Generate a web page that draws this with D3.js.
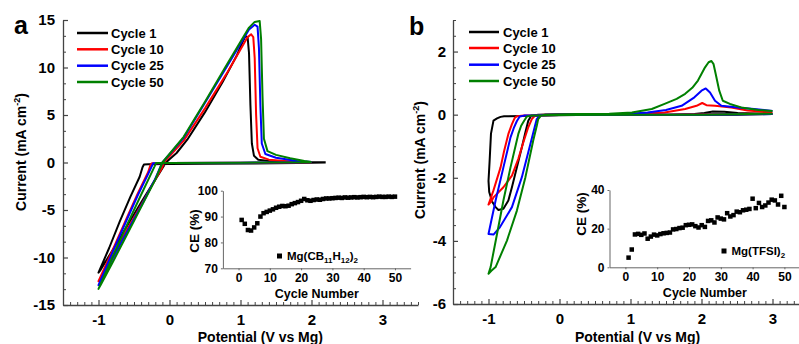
<!DOCTYPE html>
<html><head><meta charset="utf-8">
<script src="https://cdn.jsdelivr.net/npm/d3@7"></script>
<style>
body{margin:0;background:#fff}
text{font-family:"Liberation Sans",Arial,sans-serif;font-weight:bold;fill:#000}
</style>
</head><body><svg id="c" width="799" height="344"></svg>
<script>
// ---------- data ----------
const seriesNames = ["Cycle 1","Cycle 10","Cycle 25","Cycle 50"];
const seriesColors = ["#000000","#ff0000","#0000ff","#008000"];

// Panel a: CV of Mg(CB11H12)2  [potential V, current mA cm-2]
const cvA_cycle1 = [[2.2,0.0],[1.8,-0.05],[1.2,-0.1],[0.5,-0.13],[0,-0.15],[-0.3,-0.18],[-0.36,-0.22],[-0.38,-0.5],[-0.42,-1.5],[-0.55,-3.6],[-0.7,-6.2],[-0.85,-9.0],[-1.0,-11.6],[-0.97,-11.3],[-0.8,-9.2],[-0.6,-6.7],[-0.4,-4.2],[-0.2,-1.8],[-0.1,-0.6],[-0.05,0],[0.0,0.35],[0.1,1.0],[0.25,2.4],[0.5,5.3],[0.75,8.5],[0.95,11.3],[1.03,12.7],[1.07,13.3],[1.1,13.2],[1.12,11.5],[1.14,6],[1.16,2],[1.19,0.7],[1.25,0.3],[1.4,0.15],[1.8,0.05],[2.2,0.02]];
const cvA_cycle10 = [[2.0,0.0],[1.0,-0.03],[0,-0.05],[-0.25,-0.08],[-0.27,-0.3],[-0.3,-1.0],[-0.45,-3.3],[-0.6,-5.8],[-0.8,-9.2],[-1.0,-12.5],[-0.97,-12.2],[-0.8,-9.8],[-0.6,-7.1],[-0.4,-4.5],[-0.2,-1.8],[-0.1,-0.5],[-0.08,0],[0.2,2.3],[0.5,5.7],[0.8,9.3],[1.0,11.9],[1.1,13.2],[1.15,13.5],[1.18,13.2],[1.2,11],[1.22,5],[1.24,1.5],[1.28,0.6],[1.4,0.3],[1.7,0.1],[2.0,0.02]];
const cvA_cycle25 = [[2.0,0.02],[1.0,-0.02],[0,-0.04],[-0.23,-0.08],[-0.25,-0.4],[-0.3,-1.2],[-0.45,-3.5],[-0.6,-6.0],[-0.8,-9.4],[-1.0,-12.9],[-0.97,-12.6],[-0.8,-10.1],[-0.6,-7.3],[-0.4,-4.6],[-0.2,-1.7],[-0.1,0],[0.2,2.6],[0.5,6.3],[0.8,10.0],[1.0,12.5],[1.12,14.0],[1.2,14.5],[1.24,14.3],[1.26,12],[1.28,6],[1.3,2.0],[1.35,0.9],[1.5,0.5],[1.8,0.15],[2.0,0.05]];
const cvA_cycle50 = [[2.0,0.02],[1.0,-0.02],[0,-0.04],[-0.19,-0.06],[-0.21,-0.4],[-0.26,-1.2],[-0.4,-3.4],[-0.6,-6.6],[-0.8,-9.9],[-1.0,-13.3],[-0.97,-12.9],[-0.8,-10.5],[-0.6,-7.6],[-0.4,-4.7],[-0.2,-1.8],[-0.1,0],[0.2,2.7],[0.5,6.4],[0.8,10.2],[1.0,12.7],[1.12,14.2],[1.2,14.8],[1.27,14.9],[1.29,13],[1.31,7],[1.33,2.5],[1.38,1.2],[1.5,0.8],[1.7,0.45],[1.9,0.15],[2.0,0.05]];

// Panel b: CV of Mg(TFSI)2
const cvB_cycle1 = [[3.0,0.02],[2.5,0.0],[1.5,0.0],[0.5,0.0],[0,-0.02],[-0.5,-0.04],[-0.78,-0.05],[-0.83,-0.07],[-0.88,-0.12],[-0.93,-0.19],[-0.965,-0.6],[-0.985,-1.5],[-1.0,-2.1],[-0.99,-2.45],[-0.95,-2.75],[-0.9,-2.93],[-0.86,-3.02],[-0.79,-2.98],[-0.72,-2.72],[-0.67,-2.3],[-0.6,-1.67],[-0.53,-1.03],[-0.48,-0.56],[-0.44,-0.19],[-0.4,-0.04],[-0.3,0.0],[0,0.01],[0.5,0.01],[1.0,0.0],[1.5,0.0],[1.9,0.02],[2.04,0.05],[2.16,0.1],[2.32,0.09],[2.51,0.05],[3.0,0.02]];
const cvB_cycle10 = [[3.0,0.04],[2.5,0.02],[1.5,0.0],[0,-0.01],[-0.5,-0.03],[-0.6,-0.05],[-0.63,-0.1],[-0.67,-0.3],[-0.72,-0.61],[-0.78,-1.15],[-0.83,-1.67],[-0.93,-2.4],[-1.0,-2.85],[-0.96,-2.75],[-0.93,-2.62],[-0.79,-2.3],[-0.67,-1.93],[-0.58,-1.4],[-0.51,-0.88],[-0.44,-0.4],[-0.39,-0.14],[-0.34,-0.02],[-0.2,0.0],[0.5,0.01],[1.0,0.02],[1.48,0.07],[1.77,0.18],[1.93,0.28],[2.01,0.37],[2.07,0.3],[2.19,0.28],[2.42,0.23],[2.65,0.13],[3.0,0.07]];
const cvB_cycle25 = [[3.0,0.02],[2.0,0.0],[1.0,0.0],[0,-0.01],[-0.5,-0.03],[-0.56,-0.06],[-0.6,-0.2],[-0.64,-0.4],[-0.69,-0.72],[-0.79,-1.67],[-0.9,-2.72],[-0.98,-3.57],[-1.0,-3.78],[-0.93,-3.8],[-0.84,-3.57],[-0.67,-2.93],[-0.53,-1.98],[-0.41,-0.93],[-0.35,-0.4],[-0.32,-0.14],[-0.28,-0.03],[-0.2,0.0],[0.5,0.01],[1.0,0.03],[1.24,0.07],[1.5,0.15],[1.72,0.28],[1.9,0.55],[2.0,0.76],[2.06,0.83],[2.12,0.7],[2.19,0.44],[2.28,0.28],[2.51,0.23],[2.74,0.18],[3.0,0.12]];
const cvB_cycle50 = [[3.0,0.03],[2.0,0.0],[1.0,0.0],[0,-0.01],[-0.4,-0.03],[-0.46,-0.06],[-0.5,-0.2],[-0.54,-0.35],[-0.58,-0.61],[-0.69,-1.67],[-0.79,-2.72],[-0.88,-3.78],[-0.97,-4.83],[-1.0,-5.04],[-0.96,-4.95],[-0.9,-4.83],[-0.74,-3.99],[-0.6,-3.04],[-0.48,-1.98],[-0.37,-0.82],[-0.32,-0.35],[-0.3,-0.14],[-0.26,-0.03],[-0.2,0.0],[0.3,0.02],[0.7,0.03],[1.02,0.07],[1.3,0.18],[1.48,0.34],[1.65,0.5],[1.77,0.66],[1.87,0.85],[1.95,1.08],[2.05,1.5],[2.1,1.66],[2.14,1.7],[2.17,1.6],[2.2,1.29],[2.25,0.76],[2.3,0.44],[2.4,0.34],[2.56,0.23],[2.8,0.15],[3.0,0.12]];

// Insets: coulombic efficiency per cycle
const ceCycles = [1,2,3,4,5,6,7,8,9,10,11,12,13,14,15,16,17,18,19,20,21,22,23,24,25,26,27,28,29,30,31,32,33,34,35,36,37,38,39,40,41,42,43,44,45,46,47,48,49,50];
const ceA = [88.7,87.2,84.8,84.6,85.8,87.4,90.0,91.3,91.8,92.3,92.8,93.4,93.8,94.1,94.0,94.2,94.8,95.2,95.6,96.1,96.8,96.3,96.1,96.4,96.6,96.5,96.8,97.0,97.0,97.1,97.2,97.3,97.2,97.4,97.3,97.4,97.5,97.4,97.5,97.6,97.5,97.6,97.5,97.6,97.7,97.6,97.6,97.7,97.6,97.7];
const ceB = [5.0,9.2,17.0,17.3,16.8,17.5,14.8,15.9,16.9,16.5,17.2,17.6,17.8,18.0,19.6,19.8,20.3,20.5,21.8,22.0,22.2,21.3,20.6,21.8,20.9,24.0,24.3,23.2,25.8,25.2,24.8,28.0,26.3,27.0,28.8,28.5,29.5,29.8,30.2,35.5,30.6,33.3,31.2,32.0,33.5,35.0,34.6,32.5,37.0,31.2];

const cvXTicks = [-1,0,1,2,3];
const cvAYTicks = [-15,-10,-5,0,5,10,15];
const cvBYTicks = [-6,-4,-2,0,2];
const ceXTicks = [0,10,20,30,40,50];
const ceAYTicks = [70,80,90,100];
const ceBYTicks = [0,20,40];

// ---------- drawing ----------
const svg = d3.select("#c");
const fmt = d => String(d);

function mainAxes(x, y, yTicks, yMinorStep, yPad) {
  const [x0] = x.range(); const [yb] = y.range();
  const [xd0, xd1] = x.domain(); const [yd0, yd1] = y.domain();
  const minorX = d3.range(Math.round(xd0*10), Math.round(xd1*10)+1).map(v => v/10).filter(v => Math.abs(v - Math.round(v)) > 1e-6);
  const minorY = d3.range(0, Math.round((yd1-yd0)/yMinorStep)+1).map(i => yd0 + i*yMinorStep).filter(v => !yTicks.some(t => Math.abs(t-v) < 1e-6));
  svg.append("g").attr("transform", `translate(0,${yb})`)
    .call(d3.axisBottom(x).tickValues(minorX).tickSize(-3).tickFormat(""))
    .call(g => g.select(".domain").remove())
    .selectAll("line").attr("stroke", "#444");
  svg.append("g").attr("transform", `translate(${x0},0)`)
    .call(d3.axisLeft(y).tickValues(minorY).tickSize(-3).tickFormat(""))
    .call(g => g.select(".domain").remove())
    .selectAll("line").attr("stroke", "#444");
  const gx = svg.append("g").attr("transform", `translate(0,${yb})`)
    .call(d3.axisBottom(x).tickValues(cvXTicks).tickSizeInner(-5).tickSizeOuter(0).tickPadding(9).tickFormat(fmt));
  const gy = svg.append("g").attr("transform", `translate(${x0},0)`)
    .call(d3.axisLeft(y).tickValues(yTicks).tickSizeInner(-5).tickSizeOuter(0).tickPadding(yPad).tickFormat(fmt));
  [gx, gy].forEach(g => {
    g.select(".domain").attr("stroke", "#444").attr("stroke-width", 1.3);
    g.selectAll("line").attr("stroke", "#444").attr("stroke-width", 1.2);
    g.selectAll("text").attr("font-size", 15).attr("font-family", null).attr("fill", "#000");
  });
}

function drawCV(x, y, series) {
  const line = d3.line().x(d => x(d[0])).y(d => y(d[1])).curve(d3.curveLinear);
  series.forEach((s, i) => {
    svg.append("path").attr("d", line(s)).attr("fill", "none")
      .attr("stroke", seriesColors[i]).attr("stroke-width", 2).attr("stroke-linejoin", "round");
  });
}

function legend(lx0, lx1, tx, ys) {
  seriesNames.forEach((n, i) => {
    svg.append("line").attr("x1", lx0).attr("x2", lx1).attr("y1", ys[i]).attr("y2", ys[i])
      .attr("stroke", seriesColors[i]).attr("stroke-width", 2.5);
    svg.append("text").attr("x", tx).attr("y", ys[i] + 4.6).attr("font-size", 13).text(n);
  });
}

function yTitle(xp, yc) {
  const t = svg.append("text").attr("transform", `translate(${xp},${yc}) rotate(-90)`)
    .attr("text-anchor", "middle").attr("font-size", 14);
  t.append("tspan").text("Current (mA cm");
  t.append("tspan").attr("font-size", 9).attr("dy", -6).text("-2");
  t.append("tspan").attr("dy", 6).text(")");
}

function inset(x, y, yTicks, data, yTitleX, yTitleY, legX, legY, legendParts) {
  const [x0] = x.range(); const [yb] = y.range();
  const gx = svg.append("g").attr("transform", `translate(0,${yb})`)
    .call(d3.axisBottom(x).tickValues(ceXTicks).tickSizeInner(2).tickSizeOuter(0).tickPadding(3).tickFormat(fmt));
  const gy = svg.append("g").attr("transform", `translate(${x0},0)`)
    .call(d3.axisLeft(y).tickValues(yTicks).tickSizeInner(2).tickSizeOuter(0).tickPadding(3).tickFormat(fmt));
  [gx, gy].forEach(g => {
    g.select(".domain").attr("stroke", "#666").attr("stroke-width", 1);
    g.selectAll("line").attr("stroke", "#666");
    g.selectAll("text").attr("font-size", 12).attr("font-family", null).attr("fill", "#000");
  });
  svg.append("g").selectAll("rect").data(ceCycles).join("rect")
    .attr("x", (c) => x(c) - 2.25).attr("y", (c, i) => y(data[i]) - 2.25)
    .attr("width", 4.5).attr("height", 4.5).attr("fill", "#000");
  svg.append("text").attr("x", x(25)).attr("y", yb + 30).attr("text-anchor", "middle")
    .attr("font-size", 12.5).text("Cycle Number");
  svg.append("text").attr("transform", `translate(${yTitleX},${yTitleY}) rotate(-90)`)
    .attr("text-anchor", "middle").attr("font-size", 13.5).text("CE (%)");
  svg.append("rect").attr("x", legX - 2.5).attr("y", legY - 2.5).attr("width", 5).attr("height", 5).attr("fill", "#000");
  const t = svg.append("text").attr("x", legX + 7.5).attr("y", legY + 4).attr("font-size", 11.5);
  legendParts.forEach(p => {
    const s = t.append("tspan").text(p[0]);
    if (p[1]) s.attr("font-size", 8).attr("dy", 3); else s.attr("dy", p[2] || 0);
  });
}

// ----- panel a -----
const xA = d3.scaleLinear().domain([-1.5, 3.5]).range([63, 418]);
const yA = d3.scaleLinear().domain([-15, 15]).range([305, 20]);
mainAxes(xA, yA, cvAYTicks, 5/3, 8);
drawCV(xA, yA, [cvA_cycle1, cvA_cycle10, cvA_cycle25, cvA_cycle50]);
legend(77, 108, 111, [33, 49.3, 65.7, 82]);
yTitle(26, 152);
svg.append("text").attr("x", xA(1.28)).attr("y", 341.5).attr("text-anchor", "middle").attr("font-size", 14).text("Potential (V vs Mg)");
svg.append("text").attr("x", 14).attr("y", 33.5).attr("font-size", 25).text("a");

// ----- panel b -----
const xB = d3.scaleLinear().domain([-1.5, 3.5]).range([453, 808]);
const yB = d3.scaleLinear().domain([-6, 3]).range([304, 20]);
mainAxes(xB, yB, cvBYTicks, 0.5, 7);
drawCV(xB, yB, [cvB_cycle1, cvB_cycle10, cvB_cycle25, cvB_cycle50]);
legend(469, 499, 503, [32, 48, 64.7, 81]);
yTitle(425, 160);
svg.append("text").attr("x", xB(1.1)).attr("y", 341.5).attr("text-anchor", "middle").attr("font-size", 14).text("Potential (V vs Mg)");
svg.append("text").attr("x", 409).attr("y", 35).attr("font-size", 25).text("b");

// ----- insets -----
const xIA = d3.scaleLinear().domain([-5, 55]).range([222.9, 410.6]);
const yIA = d3.scaleLinear().domain([70, 100]).range([268.3, 190.7]);
inset(xIA, yIA, ceAYTicks, ceA, 199, 231, 279.5, 256,
  [["Mg(CB",0],["11",1],["H",0,-3],["12",1],[")",0,-3],["2",1]]);

const xIB = d3.scaleLinear().domain([-5, 55]).range([609.5, 800.3]);
const yIB = d3.scaleLinear().domain([0, 40]).range([267.3, 190]);
inset(xIB, yIB, ceBYTicks, ceB, 586, 214, 724, 251,
  [["Mg(TFSI)",0],["2",1]]);
</script>
</body></html>
